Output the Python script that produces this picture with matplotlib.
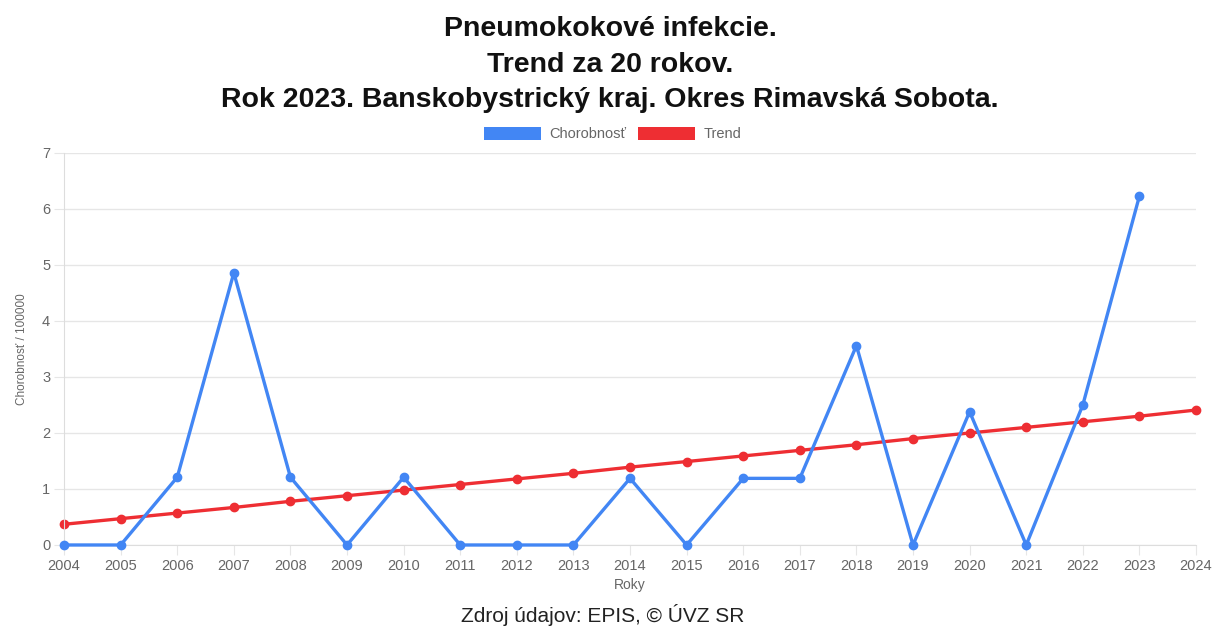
import numpy as np
import matplotlib
matplotlib.use('Agg')
import matplotlib.pyplot as plt
from matplotlib.patches import Patch

years = list(range(2004, 2024))
chorobnost = [0, 0, 1.21, 4.86, 1.21, 0, 1.21, 0, 0, 0,
              1.19, 0, 1.19, 1.19, 3.56, 0, 2.38, 0, 2.50, 6.23]
trend_years = list(range(2004, 2025))
trend = [0.37, 0.47, 0.57, 0.67, 0.78, 0.88, 0.98, 1.08, 1.18, 1.28, 1.39,
         1.49, 1.59, 1.69, 1.79, 1.90, 2.00, 2.10, 2.20, 2.30, 2.41]

title_lines = ['Pneumokokové infekcie.', 'Trend za 20 rokov.',
               'Rok 2023. Banskobystrický kraj. Okres Rimavská Sobota.']
source = 'Zdroj údajov: EPIS, © ÚVZ SR'

blue = '#4286f4'
red = '#ee2e33'
grid_c = '#e6e6e6'
tick_c = '#666666'

plt.rcParams['font.family'] = ['Liberation Sans', 'DejaVu Sans']

fig = plt.figure(figsize=(12.13, 6.27), dpi=100)
ax = fig.add_axes([0.0528, 0.1308, 0.9332, 0.6252])

ax.plot(years, chorobnost, '-o', color=blue, lw=2.4, ms=6, zorder=3, clip_on=False)
ax.plot(trend_years, trend, '-o', color=red, lw=2.4, ms=6, zorder=2, clip_on=False)

ax.set_xlim(2004, 2024)
ax.set_ylim(0, 7)
ax.set_xticks(trend_years)
ax.set_yticks(range(0, 8))
ax.grid(axis='y', color=grid_c, lw=1)
for s in ['top', 'right']:
    ax.spines[s].set_visible(False)
for s in ['left', 'bottom']:
    ax.spines[s].set_color('#dddddd')
ax.tick_params(axis='both', length=7, color=grid_c, labelcolor=tick_c,
               labelsize=10.5, pad=3)
ax.set_xlabel('Roky', color=tick_c, fontsize=10, labelpad=4)
ax.set_ylabel('Chorobnosť / 100000', color=tick_c, fontsize=8.5, labelpad=10)

for i, line in enumerate(title_lines):
    fig.text(0.503, 1 - (29 + 35.5 * i) / 627, line, ha='center', va='center',
             fontsize=20.5, fontweight='bold', color='#111111')

handles = [Patch(facecolor=blue, edgecolor='none', label='Chorobnosť'),
           Patch(facecolor=red, edgecolor='none', label='Trend')]
fig.legend(handles=handles, loc='center', bbox_to_anchor=(0.505, 1 - 134 / 627),
           ncol=2, frameon=False, fontsize=10.5, labelcolor=tick_c,
           handlelength=3.9, handleheight=1.0, handletextpad=0.6,
           columnspacing=0.8)

fig.text(0.497, 1 - 615 / 627, source, ha='center', va='center',
         fontsize=15, color='#222222')

fig.savefig('out.png', dpi=100)
